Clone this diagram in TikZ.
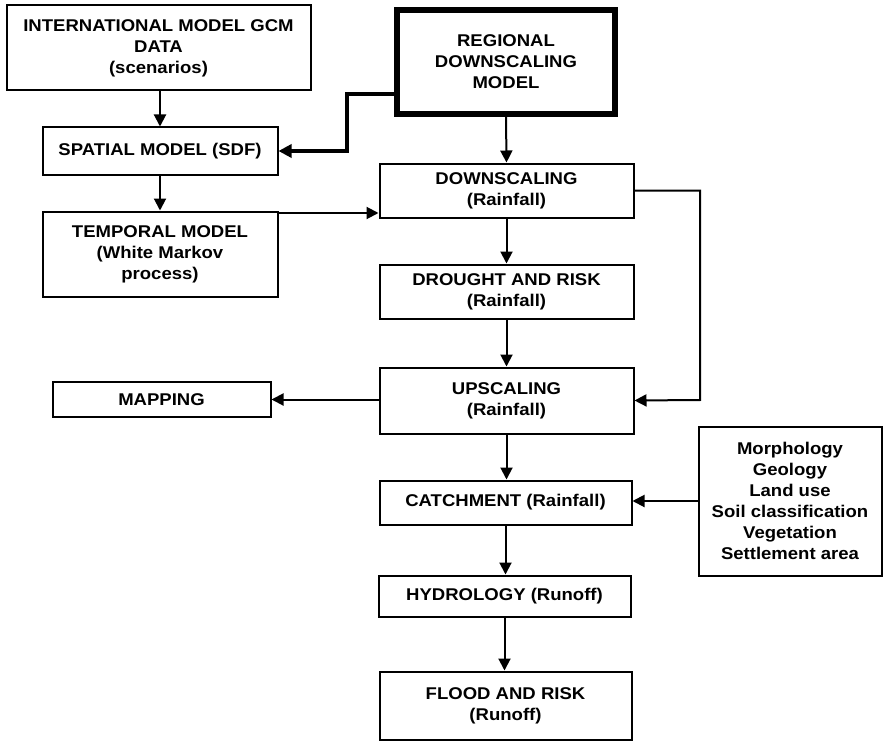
\documentclass[tikz,border=0pt]{standalone}
\usepackage{fontspec}
\setmainfont{Liberation Sans}[FakeStretch=1.09]
\usetikzlibrary{arrows.meta}
\begin{document}
\begin{tikzpicture}[x=1pt,y=-1pt,
  box/.style={draw,line width=2pt,align=center,inner sep=0pt,
    font=\fontsize{17}{21}\selectfont\bfseries},
  arr/.style={line width=2pt,-{Triangle[length=12pt,width=12pt]}},
  thickarr/.style={line width=4.5pt,-{Triangle[length=13pt,width=13pt]}}]
\useasboundingbox (0,0) rectangle (886,741);
\node[box,minimum width=304pt,minimum height=85pt] (b1) at (158.5,48) {INTERNATIONAL MODEL GCM\\DATA\\(scenarios)};
\node[box,line width=5.5pt,minimum width=218pt,minimum height=104pt] (reg) at (506,62) {REGIONAL\\DOWNSCALING\\MODEL};
\node[box,minimum width=235pt,minimum height=47pt] (spat) at (160,151) {SPATIAL MODEL (SDF)};
\node[box,minimum width=235pt,minimum height=85pt] (temp) at (160,254) {TEMPORAL MODEL\\(White Markov\\process)};
\node[box,minimum width=254pt,minimum height=54pt] (down) at (506.5,190.5) {DOWNSCALING\\(Rainfall)};
\node[box,minimum width=254pt,minimum height=54pt] (drought) at (506.5,291.5) {DROUGHT AND RISK\\(Rainfall)};
\node[box,minimum width=254pt,minimum height=66pt] (up) at (506.5,400.5) {UPSCALING\\(Rainfall)};
\node[box,minimum width=218pt,minimum height=35pt] (map) at (161.5,399.5) {MAPPING};
\node[box,minimum width=252pt,minimum height=44pt] (catch) at (505.5,502.5) {CATCHMENT (Rainfall)};
\node[box,minimum width=183pt,minimum height=149pt] (props) at (790,501) {Morphology\\Geology\\Land use\\Soil classification\\Vegetation\\Settlement area};
\node[box,minimum width=252pt,minimum height=41pt] (hydro) at (504.5,596) {HYDROLOGY (Runoff)};
\node[box,minimum width=252pt,minimum height=68pt] (flood) at (505.5,705.5) {FLOOD AND RISK\\(Runoff)};
\coordinate (k1) at (347,94);
\coordinate (k2) at (347,151);
\coordinate (r1) at (700,400);
\draw[arr] (spat.north |- b1.south) -- (spat.north);
\draw[arr] (spat.south) -- (temp.north);
\draw[thickarr] (reg.west |- k1) -- (k1) -- (k2) -- (spat.east);
\draw[arr] (reg.south) -- (down.north);
\draw[arr] ([yshift=41pt]temp.east) -- ([yshift=41pt]temp.east -| down.west);
\draw[arr] (down.east) -| (r1) -- (up.east);
\draw[arr] (down.south) -- (drought.north);
\draw[arr] (drought.south) -- (up.north);
\draw[arr] (map.east -| up.west) -- (map.east);
\draw[arr] (up.south) -- (up.south |- catch.north);
\draw[arr] (props.west) -- (props.west -| catch.east);
\draw[arr] (catch.south) -- (catch.south |- hydro.north);
\draw[arr] (hydro.south) -- (hydro.south |- flood.north);
\end{tikzpicture}
\end{document}
